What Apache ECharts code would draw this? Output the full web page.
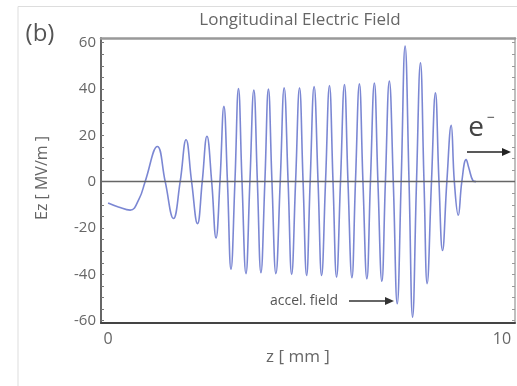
<!DOCTYPE html>
<html>
<head>
<meta charset="utf-8">
<script src="https://cdn.jsdelivr.net/npm/echarts@6/dist/echarts.min.js"></script>
<style>
html,body{margin:0;padding:0;background:#fff;}
#chart{width:517px;height:386px;}
</style>
</head>
<body>
<div id="chart"></div>
<script>
// z positions (mm): extrema and axis crossings
var zVals = [
  0.00, 0.26, 0.56, 0.79, 0.94, 1.25, 1.45, 1.66, 1.83, 1.98, 2.12, 2.27, 2.39, 2.51, 2.63, 2.74,
  2.84, 2.94, 3.03, 3.12, 3.22, 3.31, 3.40, 3.50, 3.60, 3.70, 3.79, 3.88, 3.98, 4.07, 4.16, 4.26,
  4.37, 4.47, 4.57, 4.66, 4.76, 4.86, 4.95, 5.04, 5.13, 5.23, 5.33, 5.42, 5.52, 5.62, 5.71, 5.80,
  5.90, 6.00, 6.09, 6.19, 6.28, 6.38, 6.47, 6.57, 6.66, 6.76, 6.85, 6.95, 7.04, 7.14, 7.24, 7.34,
  7.44, 7.54, 7.64, 7.73, 7.83, 7.93, 8.02, 8.10, 8.21, 8.31, 8.40, 8.49, 8.60, 8.71, 8.79, 8.89,
  8.98, 9.09, 9.16, 9.26, 9.34
];
// Ez (MV/m)
var ezVals = [
  -9.2, -10.9, -12.3, -7.3, 0, 15.2, 0, -15.9, 0, 18.1, 0, -18.1, 0, 19.6, 0, -24.3,
  0, 32.5, 0, -37.9, 0, 40.2, 0, -39.7, 0, 39.5, 0, -39.3, 0, 40.0, 0, -39.7,
  0, 40.5, 0, -40.0, 0, 40.5, 0, -40.5, 0, 41.0, 0, -40.5, 0, 41.5, 0, -41.2,
  0, 41.9, 0, -41.5, 0, 42.2, 0, -41.9, 0, 42.6, 0, -43.0, 0, 43.4, 0, -52.7,
  0, 58.5, 0, -58.5, 0, 51.3, 0, -44.0, 0, 38.3, 0, -29.7, 0, 24.3, 0, -14.5,
  0, 9.5, 5.8, 0.5, 0
];
var yTickLabels = [-60, -40, -20, 0, 20, 40, 60];
var yMinorTicks = [-60,-55,-50,-45,-40,-35,-30,-25,-20,-15,-10,-5,0,5,10,15,20,25,30,35,40,45,50,55,60];
var xTickLabels = [0, 10];

var titleText = 'Longitudinal Electric Field';
var panelText = '(b)';
var yName = 'Ez [ MV/m ]';
var xName = 'z [ mm ]';
var annText = 'accel. field';

var seriesData = zVals.map(function (z, i) { return [z, ezVals[i]]; });

var FONT = 'Open Sans';
var GRAY = '#666';

var chart = echarts.init(document.getElementById('chart'), null, {renderer: 'canvas'});

function arrow(x1, x2, y, color) {
  return {
    type: 'group',
    children: [
      {type: 'line', shape: {x1: x1, y1: y, x2: x2 - 6, y2: y}, style: {stroke: color, lineWidth: 1.6}},
      {type: 'polygon', shape: {points: [[x2, y], [x2 - 9, y - 4], [x2 - 9, y + 4]]}, style: {fill: color}}
    ]
  };
}

chart.setOption({
  animation: false,
  backgroundColor: '#fff',
  grid: {left: 101, right: 2, top: 38, bottom: 63, containLabel: false},
  xAxis: [{
    type: 'value', min: -0.18, max: 10.33, position: 'bottom',
    axisLine: {show: true, onZero: false, lineStyle: {color: '#444', width: 2}},
    axisTick: {show: false},
    splitLine: {show: false},
    axisLabel: {customValues: xTickLabels, color: GRAY, fontFamily: FONT, fontSize: 16, margin: 8}
  }, {
    type: 'value', min: -0.18, max: 10.33, position: 'top',
    axisLine: {show: true, onZero: false, lineStyle: {color: '#999', width: 2.5}},
    axisTick: {show: false}, axisLabel: {show: false}, splitLine: {show: false}
  }],
  yAxis: [{
    type: 'value', min: -61, max: 62, position: 'left',
    axisLine: {show: true, onZero: false, lineStyle: {color: '#666', width: 2}},
    axisTick: {show: true, inside: true, length: 3, customValues: yMinorTicks, lineStyle: {color: '#777'}},
    splitLine: {show: false},
    axisLabel: {customValues: yTickLabels, color: GRAY, fontFamily: FONT, fontSize: 15, margin: 5}
  }, {
    type: 'value', min: -61, max: 62, position: 'right',
    axisLine: {show: true, onZero: false, lineStyle: {color: '#aaa', width: 1.5}},
    axisTick: {show: true, inside: true, length: 3, customValues: yMinorTicks, lineStyle: {color: '#999'}},
    axisLabel: {show: false}, splitLine: {show: false}
  }],
  series: [{
    type: 'line',
    data: seriesData,
    xAxisIndex: 0, yAxisIndex: 0,
    smooth: 0.45,
    showSymbol: false,
    lineStyle: {color: '#5a69c8', width: 1.6, opacity: 0.8},
    markLine: {
      silent: true, symbol: 'none', label: {show: false},
      lineStyle: {color: '#666', width: 1.4, type: 'solid'},
      data: [{yAxis: 0}]
    },
    z: 3
  }],
  graphic: [
    {type: 'rect', shape: {x: 18, y: 6.5, width: 600, height: 500}, style: {fill: 'none', stroke: '#ddd', lineWidth: 1}, silent: true},
    {type: 'text', x: 300, y: 20, style: {text: titleText, fill: GRAY, font: '17px "Open Sans"', align: 'center', verticalAlign: 'middle'}},
    {type: 'text', x: 40, y: 34, style: {text: panelText, fill: '#555', font: '24px "Open Sans"', align: 'center', verticalAlign: 'middle'}},
    {type: 'text', x: 42, y: 178, rotation: Math.PI / 2, style: {text: yName, fill: GRAY, font: '16px "Open Sans"', align: 'center', verticalAlign: 'middle'}},
    {type: 'text', x: 298, y: 357, style: {text: xName, fill: GRAY, font: '17px "Open Sans"', align: 'center', verticalAlign: 'middle'}},
    {type: 'text', x: 304, y: 301, style: {text: annText, fill: '#555', font: '14px "Open Sans"', align: 'center', verticalAlign: 'middle'}},
    arrow(349, 394, 301, '#333'),
    {type: 'text', x: 476, y: 128, style: {text: 'e', fill: '#444', font: '28px "Open Sans"', align: 'center', verticalAlign: 'middle'}},
    {type: 'text', x: 491, y: 118, style: {text: '\u2212', fill: '#444', font: '14px "Open Sans"', align: 'center', verticalAlign: 'middle'}},
    arrow(467, 511, 152, '#222')
  ]
});
</script>
</body>
</html>
